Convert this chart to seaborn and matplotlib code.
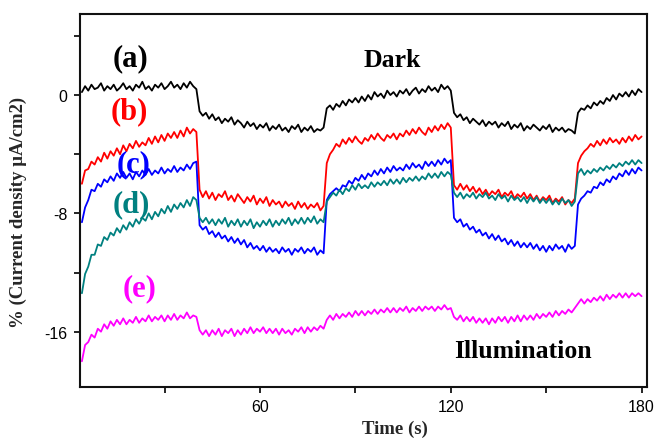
import numpy as np
import pandas as pd
import matplotlib
matplotlib.use("Agg")
import matplotlib.pyplot as plt
import seaborn as sns

# sampling times (s)
time_s = np.arange(4, 181)

curve_a = [
    0.2, 0.6, 0.3, 0.7, 0.4, 0.5, 0.8, 0.3, 0.6, 0.4,
    0.7, 0.3, 0.5, 0.8, 0.4, 0.6, 0.3, 0.7, 0.5, 0.9,
    0.4, 0.6, 0.3, 0.7, 0.5, 0.8, 0.4, 0.6, 0.9, 0.5,
    0.7, 0.4, 0.8, 0.5, 0.9, 0.6, 0.4, -1.1, -1.4, -1.2,
    -1.6, -1.3, -1.7, -1.5, -1.9, -1.6, -1.8, -1.5, -2.0, -1.7,
    -1.9, -2.2, -1.8, -2.1, -1.9, -2.3, -2.0, -2.2, -1.9, -2.4,
    -2.1, -2.3, -2.0, -2.4, -2.2, -2.5, -2.1, -2.3, -2.0, -2.5,
    -2.2, -2.4, -2.1, -2.5, -2.3, -2.4, -2.2, -0.9, -0.7, -1.0,
    -0.6, -0.8, -0.4, -0.7, -0.3, -0.5, -0.2, -0.5, -0.1, -0.4,
    0.0, -0.3, 0.2, -0.1, 0.1, -0.2, 0.3, 0.0, 0.2, -0.1,
    0.3, 0.1, 0.4, 0.0, 0.3, 0.5, 0.1, 0.4, 0.2, 0.6,
    0.3, 0.5, 0.2, 0.7, 0.4, 0.6, 0.3, -1.2, -1.5, -1.3,
    -1.7, -1.5, -1.9, -1.6, -1.8, -2.0, -1.7, -2.1, -1.8, -2.0,
    -1.8, -2.2, -1.9, -2.1, -1.8, -2.3, -2.0, -2.2, -1.9, -2.4,
    -2.1, -2.3, -2.0, -2.2, -2.4, -2.1, -2.3, -2.0, -2.5, -2.2,
    -2.4, -2.2, -2.5, -2.3, -2.4, -2.6, -1.2, -0.9, -1.0, -0.7,
    -0.9, -0.5, -0.7, -0.4, -0.6, -0.2, -0.4, 0.0, -0.3, 0.1,
    -0.1, 0.2, -0.1, 0.3, 0.0, 0.4, 0.2,
]

curve_b = [
    -6.0, -5.1, -5.0, -4.5, -4.7, -4.2, -4.5, -3.9, -4.3, -3.8,
    -4.1, -3.6, -4.0, -3.4, -3.8, -3.3, -3.6, -3.1, -3.5, -3.2,
    -3.4, -2.9, -3.3, -2.8, -3.2, -2.7, -3.1, -2.6, -2.9, -2.5,
    -2.9, -2.4, -2.8, -2.2, -2.6, -2.3, -2.5, -6.4, -6.9, -6.5,
    -7.0, -6.6, -7.1, -6.7, -6.9, -6.5, -7.1, -6.8, -7.2, -6.7,
    -7.0, -7.3, -6.9, -7.2, -6.8, -7.4, -7.0, -7.3, -6.9, -7.5,
    -7.1, -7.4, -7.2, -7.6, -7.2, -7.5, -7.3, -7.7, -7.2, -7.6,
    -7.3, -7.7, -7.4, -7.6, -7.3, -7.8, -7.5, -4.6, -4.0, -3.7,
    -3.3, -3.5, -3.0, -3.3, -2.9, -3.2, -2.8, -3.1, -3.3, -2.9,
    -3.1, -2.7, -3.0, -2.6, -2.9, -3.1, -2.7, -2.9, -2.6, -3.0,
    -2.6, -2.8, -2.4, -2.7, -2.3, -2.6, -2.2, -2.5, -2.7, -2.2,
    -2.5, -2.1, -2.4, -2.0, -2.3, -1.9, -2.2, -6.1, -6.4, -6.0,
    -6.4, -6.1, -6.5, -6.2, -6.6, -6.3, -6.7, -6.4, -6.8, -6.5,
    -6.7, -6.4, -6.9, -6.6, -6.8, -6.5, -7.0, -6.7, -6.9, -6.6,
    -7.0, -6.7, -7.1, -6.8, -7.2, -6.9, -7.1, -6.8, -7.3, -7.0,
    -7.2, -6.9, -7.4, -7.1, -7.3, -7.0, -4.6, -4.1, -3.8, -3.6,
    -3.3, -3.5, -3.1, -3.4, -3.0, -3.3, -2.9, -3.2, -3.0, -3.3,
    -2.9, -3.2, -2.8, -3.1, -2.7, -3.0, -2.8,
]

curve_c = [
    -8.6, -7.6, -7.1, -6.4, -6.5, -6.0, -6.2, -5.7, -5.9, -5.5,
    -5.8, -5.3, -5.6, -5.2, -5.6, -5.3, -5.7, -5.2, -5.5, -5.1,
    -5.4, -5.0, -5.4, -5.1, -5.3, -4.9, -5.3, -5.0, -5.2, -4.8,
    -5.2, -4.9, -5.1, -4.7, -5.0, -4.6, -4.5, -8.8, -9.1, -8.9,
    -9.4, -9.2, -9.6, -9.3, -9.7, -9.5, -9.9, -9.6, -10.0, -9.7,
    -10.1, -9.8, -10.3, -10.0, -10.4, -10.2, -10.5, -10.2, -10.6, -10.3,
    -10.6, -10.4, -10.7, -10.3, -10.6, -10.4, -10.8, -10.4, -10.6, -10.3,
    -10.7, -10.4, -10.6, -10.3, -10.8, -10.5, -10.7, -7.1, -6.7, -6.5,
    -6.3, -6.5, -6.1, -6.2, -5.8, -6.0, -5.6, -5.8, -5.4, -5.7,
    -5.3, -5.5, -5.1, -5.4, -5.0, -5.3, -4.9, -5.2, -4.8, -5.1,
    -4.9, -5.1, -4.7, -5.0, -4.6, -4.9, -4.7, -5.0, -4.5, -4.8,
    -4.5, -4.8, -4.4, -4.7, -4.3, -4.6, -4.4, -8.3, -8.6, -8.4,
    -8.9, -8.7, -9.1, -8.9, -9.3, -9.1, -9.5, -9.3, -9.7, -9.4,
    -9.8, -9.5, -9.9, -9.7, -10.1, -9.8, -10.2, -9.9, -10.3, -10.0,
    -10.3, -10.0, -10.4, -10.1, -10.5, -10.2, -10.6, -10.2, -10.5, -10.1,
    -10.4, -10.2, -10.6, -10.1, -10.4, -10.2, -7.4, -7.0, -6.8, -6.5,
    -6.6, -6.2, -6.3, -5.9, -6.1, -5.7, -5.9, -5.5, -5.7, -5.3,
    -5.5, -5.1, -5.4, -5.0, -5.3, -4.9, -5.1,
]

curve_d = [
    -13.4, -12.1, -11.6, -10.8, -10.8, -10.1, -10.2, -9.6, -9.8, -9.3,
    -9.5, -9.0, -9.3, -8.8, -9.1, -8.6, -8.9, -8.4, -8.7, -8.3,
    -8.5, -8.0, -8.4, -7.9, -8.2, -7.7, -8.0, -7.5, -7.9, -7.4,
    -7.7, -7.3, -7.6, -7.1, -7.5, -6.9, -7.1, -8.3, -8.6, -8.3,
    -8.7, -8.4, -8.8, -8.4, -8.7, -8.3, -8.9, -8.5, -8.8, -8.4,
    -8.9, -8.5, -8.8, -8.4, -9.0, -8.6, -8.9, -8.5, -8.8, -8.4,
    -8.9, -8.5, -8.8, -8.4, -8.7, -8.3, -8.8, -8.4, -8.7, -8.3,
    -8.7, -8.3, -8.6, -8.2, -8.7, -8.4, -8.6, -7.2, -6.9, -6.6,
    -6.8, -6.4, -6.7, -6.3, -6.5, -6.1, -6.4, -6.0, -6.3, -6.1,
    -6.3, -5.9, -6.2, -5.9, -6.1, -5.8, -6.1, -5.7, -6.0, -5.7,
    -6.0, -5.6, -5.9, -5.6, -5.8, -5.5, -5.8, -5.5, -5.7, -5.3,
    -5.6, -5.3, -5.6, -5.2, -5.5, -5.2, -5.4, -6.6, -6.9, -6.6,
    -7.0, -6.7, -6.9, -6.6, -7.0, -6.7, -6.9, -6.6, -7.0, -6.8,
    -7.1, -6.7, -7.0, -6.8, -7.2, -6.8, -7.1, -6.9, -7.2, -6.9,
    -7.3, -6.9, -7.2, -6.9, -7.3, -7.0, -7.3, -7.0, -7.4, -7.1,
    -7.4, -7.0, -7.3, -7.1, -7.5, -7.2, -5.3, -5.0, -5.4, -5.1,
    -5.3, -5.0, -5.2, -4.9, -5.1, -4.8, -5.0, -4.7, -4.9, -4.6,
    -4.8, -4.5, -4.7, -4.4, -4.7, -4.4, -4.6,
]

curve_e = [
    -18.0, -16.9, -16.7, -16.2, -16.4, -15.8, -16.0, -15.5, -15.8, -15.3,
    -15.6, -15.2, -15.5, -15.1, -15.5, -15.2, -15.4, -15.0, -15.4, -15.1,
    -15.3, -14.9, -15.3, -15.0, -15.2, -14.9, -15.3, -14.9, -15.2, -14.8,
    -15.2, -14.9, -15.1, -14.7, -15.1, -14.9, -15.0, -15.9, -16.2, -15.9,
    -16.3, -15.9, -16.2, -15.8, -16.3, -15.9, -16.1, -15.8, -16.3, -15.9,
    -16.2, -15.8, -16.1, -15.7, -16.1, -15.8, -16.0, -15.7, -16.1, -15.8,
    -16.1, -15.8, -16.2, -15.8, -16.1, -15.9, -16.2, -15.8, -16.0, -15.7,
    -16.1, -15.7, -16.0, -15.7, -15.9, -15.6, -15.8, -15.2, -14.9, -15.2,
    -14.8, -15.1, -14.8, -15.0, -14.7, -15.0, -14.6, -14.9, -14.6, -14.9,
    -14.6, -14.8, -14.5, -14.8, -14.5, -14.7, -14.4, -14.7, -14.4, -14.7,
    -14.4, -14.6, -14.3, -14.7, -14.4, -14.6, -14.3, -14.6, -14.3, -14.5,
    -14.3, -14.6, -14.3, -14.5, -14.2, -14.5, -14.4, -15.0, -15.2, -14.9,
    -15.3, -15.0, -15.3, -15.0, -15.4, -15.1, -15.4, -15.1, -15.5, -15.1,
    -15.4, -15.0, -15.3, -15.0, -15.4, -15.0, -15.3, -14.9, -15.3, -14.9,
    -15.2, -14.9, -15.2, -14.8, -15.1, -14.8, -15.0, -14.7, -15.0, -14.6,
    -14.9, -14.6, -14.8, -14.5, -14.7, -14.4, -14.1, -13.8, -14.1, -13.8,
    -14.0, -13.7, -13.9, -13.6, -13.9, -13.5, -13.8, -13.5, -13.7, -13.4,
    -13.7, -13.4, -13.7, -13.4, -13.6, -13.4, -13.6,
]

series_names = ["(a)", "(b)", "(c)", "(d)", "(e)"]
series_values = [curve_a, curve_b, curve_c, curve_d, curve_e]
colors = ["#000000", "#FF0000", "#0000FF", "#008080", "#FF00FF"]

x_ticks = [30, 60, 90, 120, 150, 180]
x_tick_labels = ["", "60", "", "120", "", "180"]
y_ticks = [4, 0, -4, -8, -12, -16]
y_tick_labels = ["", "0", "", "-8", "", "-16"]

for v in series_values:
    assert len(v) == len(time_s), len(v)

frames = []
for name, vals in zip(series_names, series_values):
    frames.append(pd.DataFrame({"t": time_s, "v": vals, "s": name}))
df = pd.concat(frames, ignore_index=True)

sns.set_style("ticks")
plt.rcParams["font.family"] = ["Liberation Sans", "DejaVu Sans"]

fig = plt.figure(figsize=(6.68, 4.39), dpi=100)
ax = fig.add_axes([80 / 668, 1 - 388 / 439, 567 / 668, 373 / 439])

sns.lineplot(data=df, x="t", y="v", hue="s", palette=dict(zip(series_names, colors)),
             estimator=None, sort=False, linewidth=1.3, legend=False, ax=ax)

ax.set_xlim(3.4, 181.7)
ax.set_ylim(-19.74, 5.48)
ax.set_xticks(x_ticks)
ax.set_xticklabels(x_tick_labels)
ax.set_yticks(y_ticks)
ax.set_yticklabels(y_tick_labels)
ax.tick_params(axis="both", direction="out", length=4, width=1.2, labelsize=11.5,
               colors="black", pad=5)

for sp in ax.spines.values():
    sp.set_visible(True)
    sp.set_color("#111111")
    sp.set_linewidth(1.5)

serif = ["Liberation Serif", "DejaVu Serif"]
ax.set_xlabel("Time (s)", family=serif, fontweight="bold", fontsize=13.5)
ax.set_ylabel("% (Current density µA/cm2)", family=serif, fontweight="bold", fontsize=13.5)
ax.xaxis.set_label_coords(0.556, -0.088)
ax.yaxis.set_label_coords(-0.093, 0.472)

label_pos = [(19.4, 2.5), (18.8, -1.08), (20.4, -4.67), (19.4, -7.37), (22.2, -13.0)]
for name, (tx, ty), c in zip(series_names, label_pos, colors):
    ax.text(tx, ty, name, color=c, family=serif, fontweight="bold", fontsize=22,
            ha="center", va="center")

ax.text(101.5, 2.43, "Dark", family=serif, fontweight="bold", fontsize=18.5,
        ha="center", va="center", color="black")
ax.text(142.8, -17.3, "Illumination", family=serif, fontweight="bold", fontsize=18.5,
        ha="center", va="center", color="black")

fig.savefig("out.png", dpi=100)
